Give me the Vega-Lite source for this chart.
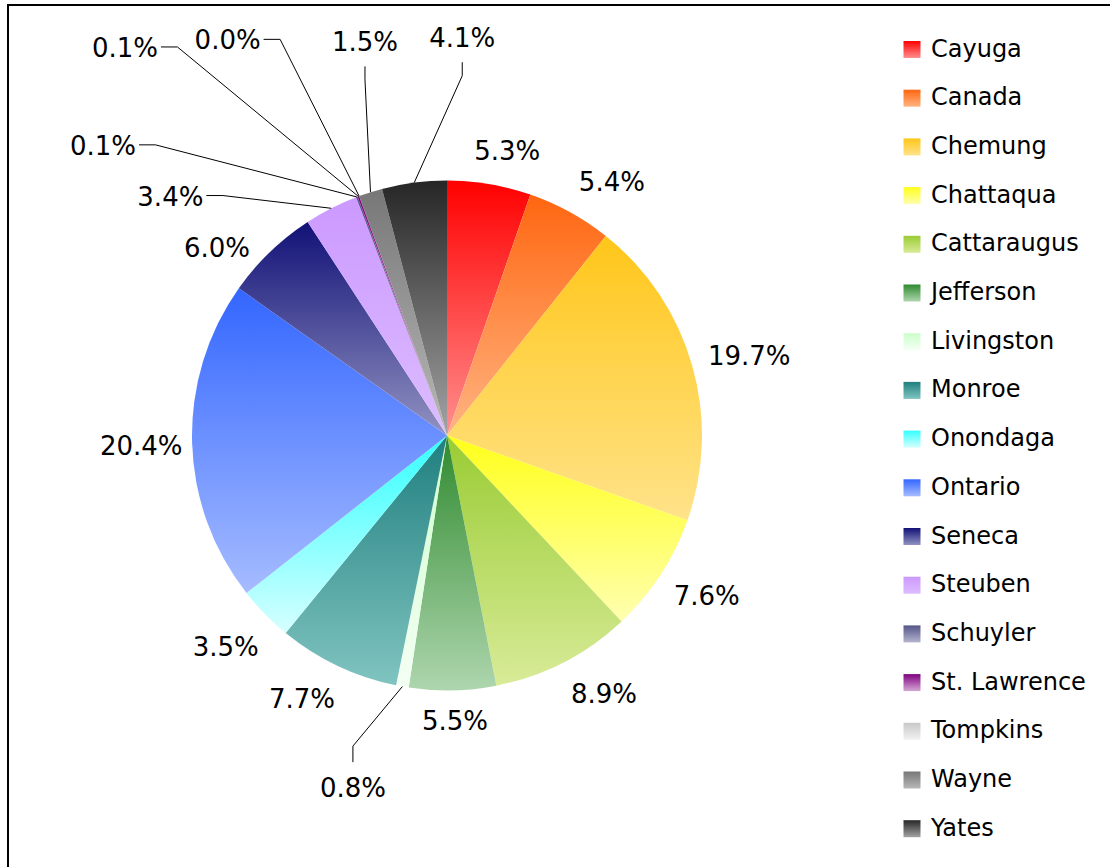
{
  "$schema": "https://vega.github.io/schema/vega-lite/v6.json",
  "width": 1110,
  "height": 870,
  "autosize": {"type": "none"},
  "padding": {"left": 8, "top": 5, "right": -8, "bottom": -8},
  "background": "white",
  "config": {
    "view": {"stroke": "#000000", "strokeWidth": 2},
    "legend": {
      "orient": "none",
      "legendX": 892,
      "legendY": 32.5,
      "symbolType": "square",
      "symbolSize": 289,
      "symbolStrokeWidth": 0,
      "labelFont": "DejaVu Sans",
      "labelFontSize": 24,
      "labelColor": "#000000",
      "labelOffset": 7,
      "labelLimit": 400,
      "rowPadding": 24.7,
      "padding": 0
    }
  },
  "data": {
    "values": [
      {"county": "Cayuga", "value": 5.3},
      {"county": "Canada", "value": 5.4},
      {"county": "Chemung", "value": 19.7},
      {"county": "Chattaqua", "value": 7.6},
      {"county": "Cattaraugus", "value": 8.9},
      {"county": "Jefferson", "value": 5.5},
      {"county": "Livingston", "value": 0.8},
      {"county": "Monroe", "value": 7.7},
      {"county": "Onondaga", "value": 3.5},
      {"county": "Ontario", "value": 20.4},
      {"county": "Seneca", "value": 6.0},
      {"county": "Steuben", "value": 3.4},
      {"county": "Schuyler", "value": 0.1},
      {"county": "St. Lawrence", "value": 0.1},
      {"county": "Tompkins", "value": 0.0},
      {"county": "Wayne", "value": 1.5},
      {"county": "Yates", "value": 4.1}
    ]
  },
  "transform": [
    {"window": [{"op": "row_number", "as": "idx"}]},
    {"window": [{"op": "sum", "field": "value", "as": "cum"}], "sort": [{"field": "idx", "order": "ascending"}], "frame": [null, 0]},
    {"calculate": "format(datum.value, '.1f') + '%'", "as": "label"},
    {"calculate": "{'Cayuga':12.0,'Canada':33.1,'Chemung':75.5,'Chattaqua':121.9,'Cattaraugus':148.8,'Jefferson':178.4,'Livingston':194.9,'Monroe':208.7,'Onondaga':226.1,'Ontario':267.9,'Seneca':309.0,'Steuben':310.7,'Schuyler':310.0,'St. Lawrence':320.2,'Tompkins':330.9,'Wayne':348.2,'Yates':2.2}[datum.county]", "as": "la"},
    {"calculate": "{'Cayuga':1.135,'Canada':1.184,'Chemung':1.224,'Chattaqua':1.2,'Cattaraugus':1.188,'Jefferson':1.125,'Livingston':1.435,'Monroe':1.184,'Onondaga':1.204,'Ontario':1.2,'Seneca':1.161,'Steuben':1.431,'Schuyler':1.761,'St. Lawrence':1.973,'Tompkins':1.769,'Wayne':1.573,'Yates':1.557}[datum.county]", "as": "lr"},
    {"calculate": "datum.lr*255*sin(datum.la*PI/180)", "as": "lx"},
    {"calculate": "-datum.lr*255*cos(datum.la*PI/180)", "as": "ly"}
  ],
  "layer": [
    {
      "mark": {"type": "arc", "outerRadius": 255, "x": 439, "y": 430.5, "stroke": null},
      "encoding": {
        "theta": {"field": "value", "type": "quantitative", "stack": true},
        "order": {"field": "idx", "type": "quantitative"},
        "color": {
          "field": "county",
          "type": "nominal",
          "sort": null,
          "legend": {"title": null},
          "scale": {
            "range": [
              {"expr": "{gradient:'linear',x1:1,y1:0,x2:1,y2:1,stops:[{offset:0,color:'#ff0000'},{offset:1,color:'#ff8f8f'}]}"},
              {"expr": "{gradient:'linear',x1:1,y1:0,x2:1,y2:1,stops:[{offset:0,color:'#ff6610'},{offset:1,color:'#ffb482'}]}"},
              {"expr": "{gradient:'linear',x1:1,y1:0,x2:1,y2:1,stops:[{offset:0,color:'#ffc619'},{offset:1,color:'#ffe38a'}]}"},
              {"expr": "{gradient:'linear',x1:1,y1:0,x2:1,y2:1,stops:[{offset:0,color:'#ffff1a'},{offset:1,color:'#ffffb0'}]}"},
              {"expr": "{gradient:'linear',x1:1,y1:0,x2:1,y2:1,stops:[{offset:0,color:'#99cc33'},{offset:1,color:'#d8eb98'}]}"},
              {"expr": "{gradient:'linear',x1:1,y1:0,x2:1,y2:1,stops:[{offset:0,color:'#2f8a2f'},{offset:1,color:'#aed6ae'}]}"},
              {"expr": "{gradient:'linear',x1:1,y1:0,x2:1,y2:1,stops:[{offset:0,color:'#ccffcc'},{offset:1,color:'#f4fff4'}]}"},
              {"expr": "{gradient:'linear',x1:1,y1:0,x2:1,y2:1,stops:[{offset:0,color:'#1f7f7f'},{offset:1,color:'#80c4c0'}]}"},
              {"expr": "{gradient:'linear',x1:1,y1:0,x2:1,y2:1,stops:[{offset:0,color:'#33ffff'},{offset:1,color:'#d6ffff'}]}"},
              {"expr": "{gradient:'linear',x1:1,y1:0,x2:1,y2:1,stops:[{offset:0,color:'#3366ff'},{offset:1,color:'#a6bcff'}]}"},
              {"expr": "{gradient:'linear',x1:1,y1:0,x2:1,y2:1,stops:[{offset:0,color:'#111177'},{offset:1,color:'#9292c2'}]}"},
              {"expr": "{gradient:'linear',x1:1,y1:0,x2:1,y2:1,stops:[{offset:0,color:'#cc99ff'},{offset:1,color:'#dcbcff'}]}"},
              {"expr": "{gradient:'linear',x1:1,y1:0,x2:1,y2:1,stops:[{offset:0,color:'#555588'},{offset:1,color:'#b4b4d0'}]}"},
              {"expr": "{gradient:'linear',x1:1,y1:0,x2:1,y2:1,stops:[{offset:0,color:'#800080'},{offset:1,color:'#d4a8d4'}]}"},
              {"expr": "{gradient:'linear',x1:1,y1:0,x2:1,y2:1,stops:[{offset:0,color:'#c8c8c8'},{offset:1,color:'#f2f2f2'}]}"},
              {"expr": "{gradient:'linear',x1:1,y1:0,x2:1,y2:1,stops:[{offset:0,color:'#777777'},{offset:1,color:'#b8b8b8'}]}"},
              {"expr": "{gradient:'linear',x1:1,y1:0,x2:1,y2:1,stops:[{offset:0,color:'#262626'},{offset:1,color:'#a4a4a4'}]}"}
            ]
          }
        }
      }
    },
    {
      "mark": {"type": "text", "font": "DejaVu Sans", "fontSize": 26, "align": "center", "baseline": "middle", "color": "#000000"},
      "encoding": {
        "x": {"field": "lx", "type": "quantitative", "scale": {"domain": [-439, 671], "nice": false, "zero": false}, "axis": null},
        "y": {"field": "ly", "type": "quantitative", "scale": {"domain": [-430.5, 439.5], "nice": false, "zero": false, "reverse": true}, "axis": null},
        "text": {"field": "label", "type": "nominal"}
      }
    },
    {
      "transform": [
        {"filter": "indexof(['Livingston','Steuben','Schuyler','St. Lawrence','Tompkins','Wayne','Yates'], datum.county) >= 0"},
        {"calculate": "(datum.cum - datum.value/2)/100*2*PI", "as": "m"},
        {"calculate": "255*sin(datum.m)", "as": "sx"},
        {"calculate": "-255*cos(datum.m)", "as": "sy"},
        {"calculate": "datum.county === 'Livingston' ? 'B' : (datum.county === 'Wayne' || datum.county === 'Yates') ? 'T' : 'L'", "as": "side"},
        {"calculate": "datum.side === 'L' ? datum.lx + 36 : datum.lx", "as": "ax"},
        {"calculate": "datum.side === 'T' ? datum.ly + 23.5 : datum.side === 'B' ? datum.ly - 27 : datum.ly - 2", "as": "ay"},
        {"calculate": "datum.side === 'L' ? datum.ax + 16.5 : datum.ax", "as": "ex"},
        {"calculate": "datum.side === 'T' ? datum.ay + 13.5 : datum.side === 'B' ? datum.ay - 16 : datum.ay", "as": "ey"}
      ],
      "layer": [
        {
          "mark": {"type": "rule", "color": "#000000", "strokeWidth": 1},
          "encoding": {
            "x": {"field": "ax", "type": "quantitative", "scale": {"domain": [-439, 671], "nice": false, "zero": false}, "axis": null},
            "y": {"field": "ay", "type": "quantitative", "scale": {"domain": [-430.5, 439.5], "nice": false, "zero": false, "reverse": true}, "axis": null},
            "x2": {"field": "ex"},
            "y2": {"field": "ey"}
          }
        },
        {
          "mark": {"type": "rule", "color": "#000000", "strokeWidth": 1},
          "encoding": {
            "x": {"field": "ex", "type": "quantitative", "scale": {"domain": [-439, 671], "nice": false, "zero": false}, "axis": null},
            "y": {"field": "ey", "type": "quantitative", "scale": {"domain": [-430.5, 439.5], "nice": false, "zero": false, "reverse": true}, "axis": null},
            "x2": {"field": "sx"},
            "y2": {"field": "sy"}
          }
        }
      ]
    }
  ]
}
